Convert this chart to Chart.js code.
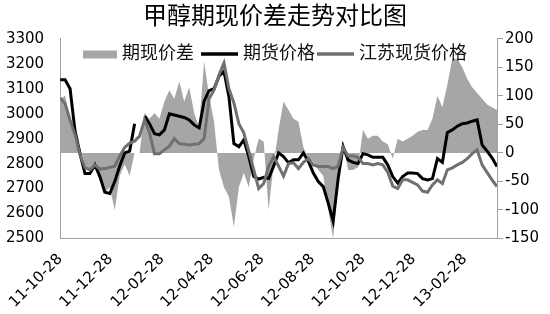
<!DOCTYPE html>
<html>
<head>
<meta charset="utf-8">
<script src="https://cdn.jsdelivr.net/npm/chart.js@4.4.1/dist/chart.umd.min.js"></script>
<style>
  html, body { margin: 0; padding: 0; background: #fff; }
  #wrap { width: 550px; height: 314px; }
</style>
</head>
<body>
<div id="wrap"><canvas id="chart"></canvas></div>
<script>
// sample grid: one reading every 6 days starting 2011-10-28
const startDate = "2011-10-28";
const stepDays = 6;
const tickLabels = ["11-10-28", "11-12-28", "12-02-28", "12-04-28", "12-06-28", "12-08-28", "12-10-28", "12-12-28", "13-02-28"];

// 期现价差 (right axis)
const spread = [95, 100, 60, 20, 10, -20, -30, -20, -45, -70, -60, -100, -40, -20, -40, 0, 0, 70, 60, 70,
  60, 90, 110, 95, 125, 90, 115, 70, 45, 160, 100, 55, -30, -60, -77, -130, -60, -35, -60, -10,
  25, 20, -100, -20, 40, 90, 75, 60, 55, 10, -10, -15, -30, -40, -100, -150, -50, 20, -30, -30,
  -25, 40, 25, 30, 30, 20, 15, -10, 25, 20, 25, 30, 37, 40, 40, 60, 100, 80, 120, 165,
  165, 150, 130, 115, 105, 95, 85, 80, 75];

// 期货价格 (left axis)
const futures = [3136, 3136, 3100, 2930, 2840, 2760, 2760, 2795, 2748, 2685, 2680, 2728, 2790, 2843, 2850, 2960, null, 2990, 2960, 2920,
  2915, 2935, 3000, 2995, 2990, 2985, 2975, 2955, 2943, 3050, 3092, 3100, 3150, 3170, 3068, 2880, 2868, 2895, 2828, 2748,
  2738, 2745, 2740, 2790, 2843, 2828, 2803, 2815, 2815, 2843, 2810, 2762, 2728, 2708, 2642, 2570, 2740, 2868, 2815, 2805,
  2800, 2840, 2835, 2825, 2825, 2825, 2795, 2748, 2722, 2748, 2762, 2762, 2760, 2740, 2735, 2740, 2820, 2805, 2925, 2935,
  2950, 2960, 2963, 2970, 2975, 2875, 2850, 2823, 2788];

// 江苏现货价格 (left axis)
const spot = [3063, 3040, 2975, 2915, 2835, 2785, 2775, 2795, 2778, 2780, 2785, 2790, 2830, 2865, 2882, 2890, 2910, 2975, 2925, 2840,
  2840, 2855, 2870, 2900, 2880, 2878, 2875, 2878, 2880, 2900, 3060, 3095, 3155, 3203, 3100, 3043, 2960, 2923, 2850, 2775,
  2700, 2720, 2790, 2828, 2790, 2750, 2800, 2803, 2780, 2805, 2820, 2795, 2788, 2788, 2788, 2780, 2790, 2865, 2830, 2830,
  2825, 2800, 2800, 2795, 2800, 2795, 2765, 2710, 2700, 2735, 2735, 2725, 2715, 2690, 2685, 2715, 2735, 2720, 2775, 2783,
  2795, 2805, 2820, 2840, 2855, 2795, 2765, 2735, 2708];

const dayMs = 24 * 3600 * 1000;
const t0 = new Date(startDate + "T00:00:00Z").getTime();
function dayOf(label) {
  return Math.round((new Date("20" + label + "T00:00:00Z").getTime() - t0) / dayMs);
}
const tickDays = tickLabels.map(dayOf);
const toPoints = arr => arr.map((v, i) => ({ x: i * stepDays, y: v }));
const lastDay = (spread.length - 1) * stepDays;

const axisFont = { family: "DejaVu Sans", size: 15 };
const cjk = "'Noto Sans CJK SC', sans-serif";

const legendItems = [
  { text: "期现价差", kind: "box", color: "#a6a6a6", x: 83 },
  { text: "期货价格", kind: "line", color: "#000000", x: 201 },
  { text: "江苏现货价格", kind: "line", color: "#707070", x: 317 }
];

// legend sits inside the plot, like the original
const legendPlugin = {
  id: "insideLegend",
  afterDraw(chart) {
    const ctx = chart.ctx;
    ctx.save();
    ctx.font = "18px " + cjk;
    ctx.textBaseline = "middle";
    legendItems.forEach(it => {
      if (it.kind === "box") {
        ctx.fillStyle = it.color;
        ctx.fillRect(it.x, 50.5, 34, 8);
      } else {
        ctx.strokeStyle = it.color;
        ctx.lineWidth = 3.5;
        ctx.beginPath();
        ctx.moveTo(it.x, 54);
        ctx.lineTo(it.x + 37, 54);
        ctx.stroke();
      }
      ctx.fillStyle = "#111";
      ctx.fillText(it.text, it.x + (it.kind === "box" ? 39 : 42), 52);
    });
    ctx.restore();
  }
};

new Chart(document.getElementById("chart"), {
  type: "line",
  data: {
    datasets: [
      {
        label: "期现价差",
        data: toPoints(spread),
        yAxisID: "y1",
        fill: "origin",
        backgroundColor: "#a6a6a6",
        borderColor: "rgba(0,0,0,0)",
        borderWidth: 0,
        pointRadius: 0,
        tension: 0,
        order: 3
      },
      {
        label: "期货价格",
        data: toPoints(futures),
        yAxisID: "y",
        borderColor: "#000000",
        borderWidth: 3,
        pointRadius: 0,
        tension: 0,
        fill: false,
        order: 2
      },
      {
        label: "江苏现货价格",
        data: toPoints(spot),
        yAxisID: "y",
        borderColor: "#707070",
        borderWidth: 3,
        pointRadius: 0,
        tension: 0,
        fill: false,
        order: 1
      }
    ]
  },
  options: {
    responsive: true,
    maintainAspectRatio: false,
    animation: false,
    layout: { padding: 0 },
    plugins: {
      legend: { display: false },
      tooltip: { enabled: false },
      title: {
        display: true,
        text: "甲醇期现价差走势对比图",
        color: "#000",
        font: { family: cjk, size: 24, weight: "normal", lineHeight: 1.2 },
        padding: { top: 0, bottom: 10 }
      }
    },
    scales: {
      x: {
        type: "linear",
        min: 0,
        max: lastDay,
        afterBuildTicks: s => { s.ticks = tickDays.map(v => ({ value: v })); },
        afterFit: s => { s.height = 75.5; },
        grid: { display: false, drawTicks: false },
        border: { display: true, color: "#a0a0a0" },
        ticks: {
          autoSkip: false,
          minRotation: 45,
          maxRotation: 45,
          padding: 12,
          color: "#000",
          font: axisFont,
          callback: v => tickLabels[tickDays.indexOf(v)]
        }
      },
      y: {
        position: "left",
        min: 2500,
        max: 3300,
        afterFit: s => { s.width = 57; },
        grid: { drawOnChartArea: false, drawTicks: false },
        border: { display: true, color: "#a0a0a0" },
        ticks: { stepSize: 100, padding: 16, color: "#000", font: axisFont, callback: v => String(v) }
      },
      y1: {
        position: "right",
        min: -150,
        max: 200,
        afterFit: s => { s.width = 53; },
        grid: { drawOnChartArea: false, drawTicks: true, tickLength: 6, color: "#a0a0a0" },
        border: { display: true, color: "#a0a0a0" },
        ticks: { stepSize: 50, padding: 2, color: "#000", font: axisFont, callback: v => String(v) }
      }
    }
  },
  plugins: [legendPlugin]
});
</script>
</body>
</html>
